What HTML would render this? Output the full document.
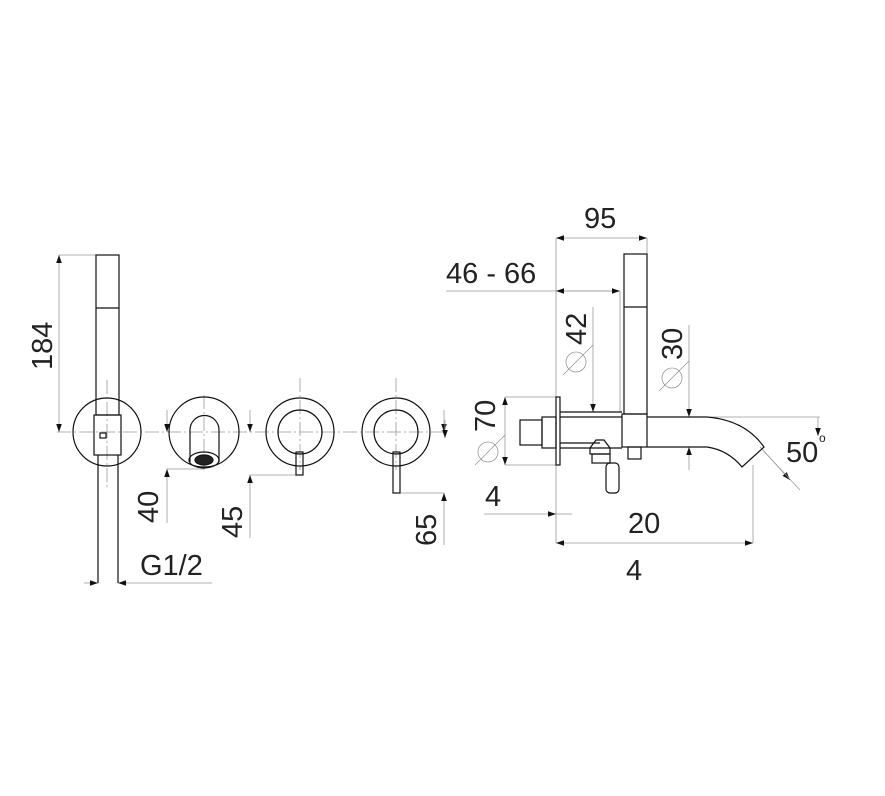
<!DOCTYPE html>
<html><head><meta charset="utf-8"><style>html,body{margin:0;padding:0;background:#fff}svg{display:block}</style></head><body>
<svg width="885" height="796" viewBox="0 0 885 796" xmlns="http://www.w3.org/2000/svg" font-family="Liberation Sans, sans-serif" font-size="29" fill="none">
<defs>
<marker id="a" viewBox="0 0 10 10" refX="10" refY="5" markerWidth="10" markerHeight="8" orient="auto-start-reverse" markerUnits="userSpaceOnUse"><path d="M0,1.5 L10,5 L0,8.5z" fill="#111"/></marker>
</defs>
<g stroke="#999" stroke-width="0.8">
<!-- centre line -->
<line x1="57" y1="432" x2="446" y2="432" stroke-dasharray="14,3,2,3"/>
<line x1="107" y1="380" x2="107" y2="488" stroke-dasharray="14,3,2,3"/>
<line x1="204" y1="395" x2="204" y2="470" stroke-dasharray="14,3,2,3"/>
<line x1="300" y1="378" x2="300" y2="470" stroke-dasharray="14,3,2,3"/>
<line x1="396" y1="378" x2="396" y2="470" stroke-dasharray="14,3,2,3"/>
<!-- 184 -->
<line x1="59" y1="255" x2="96" y2="255"/>
<line x1="59" y1="255" x2="59" y2="432" marker-start="url(#a)" marker-end="url(#a)"/>
<!-- G1/2 -->
<line x1="84" y1="583" x2="98" y2="583" marker-end="url(#a)"/>
<line x1="212" y1="583" x2="118" y2="583" marker-end="url(#a)"/>
<!-- 40 -->
<line x1="167" y1="469" x2="204" y2="469"/>
<line x1="167" y1="410" x2="167" y2="432" marker-end="url(#a)"/>
<line x1="167" y1="523" x2="167" y2="469" marker-end="url(#a)"/>
<!-- 45 -->
<line x1="250" y1="475" x2="300" y2="475"/>
<line x1="250" y1="410" x2="250" y2="432" marker-end="url(#a)"/>
<line x1="250" y1="538" x2="250" y2="475" marker-end="url(#a)"/>
<!-- 65 -->
<line x1="400" y1="493" x2="444" y2="493"/>
<line x1="444" y1="410" x2="444" y2="432" marker-end="url(#a)"/>
<line x1="444" y1="545" x2="444" y2="493" marker-end="url(#a)"/>
<!-- right dims -->
<line x1="556" y1="238" x2="647" y2="238" marker-start="url(#a)" marker-end="url(#a)"/>
<line x1="647" y1="238" x2="647" y2="254"/>
<line x1="556" y1="238" x2="556" y2="543"/>
<line x1="446" y1="291" x2="620" y2="291"/>
<line x1="556" y1="291" x2="620" y2="291" marker-start="url(#a)" marker-end="url(#a)"/>
<line x1="620" y1="291" x2="620" y2="412"/>
<line x1="593" y1="307" x2="593" y2="412" marker-end="url(#a)"/>
<line x1="689" y1="325" x2="689" y2="417" marker-end="url(#a)"/>
<line x1="689" y1="470" x2="689" y2="447" marker-end="url(#a)"/>
<line x1="505" y1="397" x2="556" y2="397"/>
<line x1="505" y1="465" x2="556" y2="465"/>
<line x1="505" y1="397" x2="505" y2="465" marker-start="url(#a)" marker-end="url(#a)"/>
<line x1="484" y1="514" x2="556" y2="514" marker-end="url(#a)"/>
<line x1="572" y1="514" x2="556" y2="514"/>
<line x1="556" y1="543" x2="753" y2="543" marker-start="url(#a)" marker-end="url(#a)"/>
<line x1="753" y1="465" x2="753" y2="543"/>
<line x1="707" y1="417" x2="820" y2="417"/>
<line x1="818" y1="417" x2="818" y2="436" marker-end="url(#a)"/>
<line x1="763" y1="450" x2="790" y2="480" marker-end="url(#a)"/>
<line x1="760" y1="447" x2="800" y2="490"/>
<line x1="445" y1="420" x2="445" y2="438" marker-end="url(#a)"/>
<!-- diameter symbols -->
<circle cx="576" cy="362" r="10"/><line x1="563" y1="375" x2="593" y2="345"/>
<circle cx="672" cy="378" r="10"/><line x1="659" y1="391" x2="689" y2="361"/>
<circle cx="488" cy="452" r="10"/><line x1="475" y1="465" x2="505" y2="435"/>
</g>
<g stroke="#111" stroke-width="1.2">
<!-- hand shower left -->
<circle cx="107" cy="432" r="34"/>
<rect x="96" y="255" width="23" height="160"/>
<line x1="96" y1="308" x2="119" y2="308"/>
<rect x="94" y="415" width="27" height="40"/>
<rect x="100" y="433" width="6" height="5"/>
<line x1="98" y1="455" x2="98" y2="583"/><line x1="118" y1="455" x2="118" y2="583"/>
<!-- spout front -->
<circle cx="204" cy="432" r="35"/>
<path d="M190,462 V430 a14,14 0 0 1 29,0 V462"/>
<ellipse cx="204" cy="460" rx="15" ry="8"/>
<ellipse cx="204" cy="460" rx="9" ry="5" fill="#222"/>
<!-- mixers -->
<circle cx="300" cy="432" r="34"/><circle cx="300" cy="432" r="22"/>
<rect x="296" y="452" width="7" height="23"/>
<circle cx="396" cy="432" r="34"/><circle cx="396" cy="432" r="22"/>
<rect x="393" y="452" width="7" height="41"/>
<!-- side view -->
<rect x="624" y="254" width="23" height="160"/>
<line x1="624" y1="307" x2="647" y2="307"/>
<rect x="556" y="397" width="4" height="68"/>
<rect x="520" y="420" width="22" height="25"/>
<rect x="542" y="417" width="14" height="31"/>
<path d="M560,412 H622 M560,417 H622 M560,448 H622 M560,443 H600"/>
<rect x="622" y="414" width="25" height="33"/>
<rect x="628" y="447" width="13" height="12"/>
<path d="M590,448 l6,-8 h8 l6,8 v6 h-20z"/>
<rect x="592" y="454" width="18" height="9"/>
<rect x="606" y="463" width="13" height="30" rx="4"/>
<path d="M647,417 H707 Q745,420 764,447 L742,467 Q728,450 707,447 H647"/>
</g>
<g fill="#222" stroke="none">
<text transform="translate(52,370) rotate(-90)">184</text>
<text x="140" y="575">G1/2</text>
<text transform="translate(158,523) rotate(-90)">40</text>
<text transform="translate(242,538) rotate(-90)">45</text>
<text transform="translate(436,546) rotate(-90)">65</text>
<text x="584" y="228">95</text>
<text x="446" y="283">46 - 66</text>
<text transform="translate(586,345) rotate(-90)">42</text>
<text transform="translate(682,360) rotate(-90)">30</text>
<text transform="translate(495,432) rotate(-90)">70</text>
<text x="485" y="506">4</text>
<text x="628" y="533">20</text>
<text x="626" y="580">4</text>
<text x="786" y="462">50</text>
<text x="819" y="442" font-size="12">o</text>
</g>
</svg>
</body></html>
